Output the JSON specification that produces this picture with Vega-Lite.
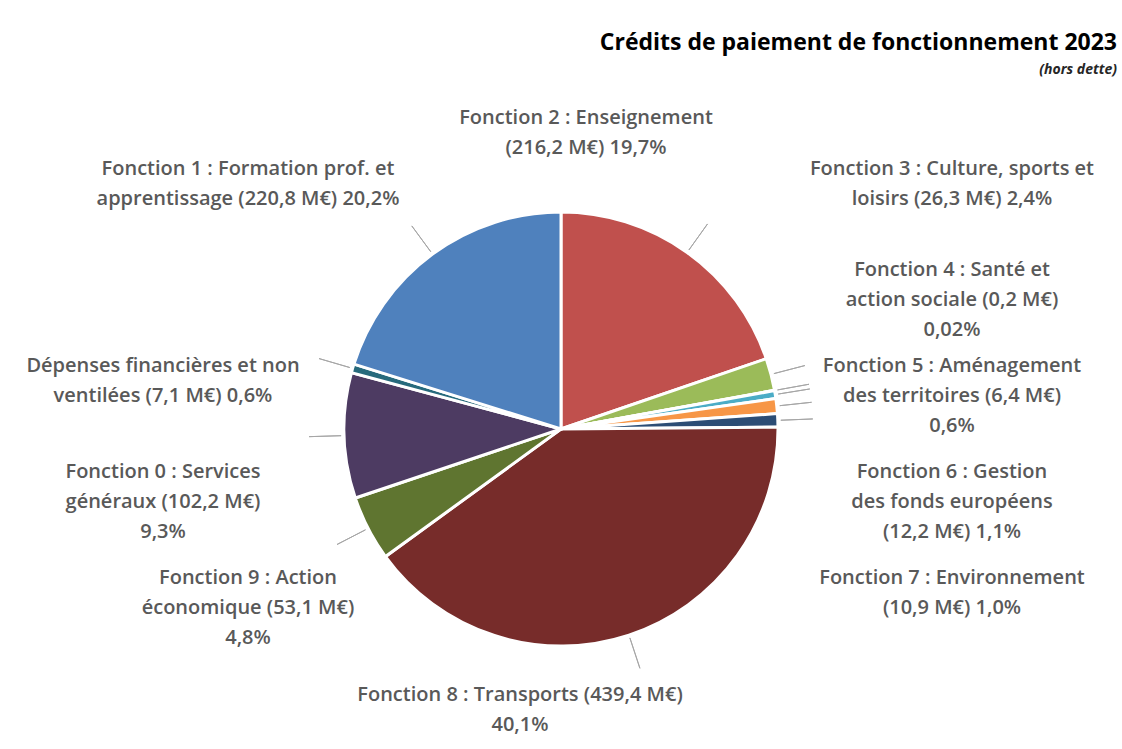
{
  "$schema": "https://vega.github.io/schema/vega-lite/v6.json",
  "width": 1112,
  "height": 640,
  "autosize": "none",
  "padding": {"left": 5, "right": 5, "top": 109, "bottom": 0},
  "background": "white",
  "title": {
    "text": "Crédits de paiement de fonctionnement 2023",
    "subtitle": "(hors dette)",
    "anchor": "end",
    "frame": "group",
    "offset": 31,
    "font": "Open Sans",
    "fontSize": 23,
    "fontWeight": "bold",
    "color": "#000000",
    "subtitleFont": "Open Sans",
    "subtitleFontSize": 14,
    "subtitleFontStyle": "italic",
    "subtitleFontWeight": "bold",
    "subtitleColor": "#262626",
    "subtitlePadding": 8
  },
  "config": {"view": {"stroke": null}},
  "data": {
    "values": [
      {"ordre": 1, "fonction": "Fonction 2", "montant": 216.2, "colonne": 3, "rang": 0, "label": "Fonction 2 : Enseignement\n(216,2 M€) 19,7%"},
      {"ordre": 2, "fonction": "Fonction 3", "montant": 26.3, "colonne": 4, "rang": 1, "label": "Fonction 3 : Culture, sports et\nloisirs (26,3 M€) 2,4%"},
      {"ordre": 3, "fonction": "Fonction 4", "montant": 0.2, "colonne": 4, "rang": 2, "label": "Fonction 4 : Santé et\naction sociale (0,2 M€)\n0,02%"},
      {"ordre": 4, "fonction": "Fonction 5", "montant": 6.4, "colonne": 4, "rang": 3, "label": "Fonction 5 : Aménagement\ndes territoires (6,4 M€)\n0,6%"},
      {"ordre": 5, "fonction": "Fonction 6", "montant": 12.2, "colonne": 4, "rang": 4, "label": "Fonction 6 : Gestion\ndes fonds européens\n(12,2 M€) 1,1%"},
      {"ordre": 6, "fonction": "Fonction 7", "montant": 10.9, "colonne": 4, "rang": 5, "label": "Fonction 7 : Environnement\n(10,9 M€) 1,0%"},
      {"ordre": 7, "fonction": "Fonction 8", "montant": 439.4, "colonne": 2, "rang": 6, "label": "Fonction 8 : Transports (439,4 M€)\n40,1%"},
      {"ordre": 8, "fonction": "Fonction 9", "montant": 53.1, "colonne": 1, "rang": 5, "label": "Fonction 9 : Action\néconomique (53,1 M€)\n4,8%"},
      {"ordre": 9, "fonction": "Fonction 0", "montant": 102.2, "colonne": 0, "rang": 4, "label": "Fonction 0 : Services\ngénéraux (102,2 M€)\n9,3%"},
      {"ordre": 10, "fonction": "Dépenses financières et non ventilées", "montant": 7.1, "colonne": 0, "rang": 3, "label": "Dépenses financières et non\nventilées (7,1 M€) 0,6%"},
      {"ordre": 11, "fonction": "Fonction 1", "montant": 220.8, "colonne": 1, "rang": 1, "label": "Fonction 1 : Formation prof. et\napprentissage (220,8 M€) 20,2%"}
    ]
  },
  "layer": [
    {
      "mark": {"type": "arc", "outerRadius": 217, "stroke": "white", "strokeWidth": 3},
      "encoding": {
        "theta": {"field": "montant", "type": "quantitative", "stack": true},
        "order": {"field": "ordre", "type": "quantitative"},
        "color": {
          "field": "fonction",
          "type": "nominal",
          "legend": null,
          "scale": {
            "domain": ["Fonction 2", "Fonction 3", "Fonction 4", "Fonction 5", "Fonction 6", "Fonction 7", "Fonction 8", "Fonction 9", "Fonction 0", "Dépenses financières et non ventilées", "Fonction 1"],
            "range": ["#C0504D", "#9BBB59", "#8064A2", "#4BACC6", "#F79646", "#2C4D75", "#772C2A", "#5F7530", "#4D3B62", "#276A7C", "#4F81BD"]
          }
        }
      }
    },
    {
      "mark": {"type": "arc", "innerRadius": 220, "outerRadius": 252, "padAngle": 3, "filled": false, "stroke": "#a6a6a6", "strokeWidth": 1},
      "encoding": {
        "theta": {"field": "montant", "type": "quantitative", "stack": true},
        "order": {"field": "ordre", "type": "quantitative"}
      }
    },
    {
      "mark": {"type": "text", "font": "Open Sans", "fontSize": 20, "fontWeight": 600, "color": "#595959", "lineBreak": "\n", "lineHeight": 30, "align": "center", "baseline": "middle"},
      "encoding": {
        "x": {"field": "colonne", "type": "quantitative", "axis": null, "scale": {"domain": [0, 1, 2, 3, 4], "range": [158, 243, 515, 581, 947]}},
        "y": {"field": "rang", "type": "quantitative", "axis": null, "scale": {"domain": [0, 1, 2, 3, 4, 5, 6], "range": [9, 60, 161, 257, 363, 469, 586]}},
        "text": {"field": "label"}
      }
    }
  ]
}
